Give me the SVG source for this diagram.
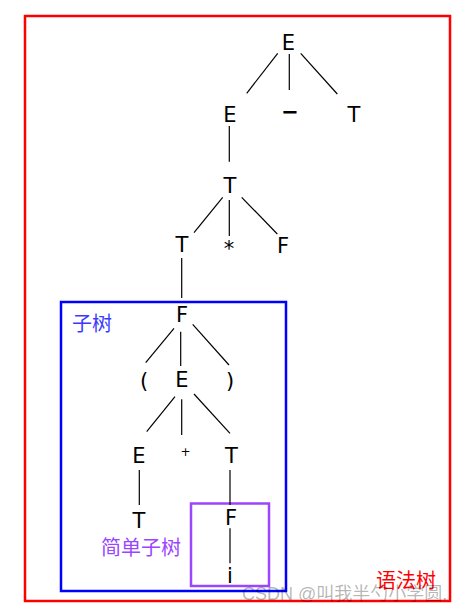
<svg xmlns="http://www.w3.org/2000/svg" width="473" height="614" viewBox="0 0 473 614">
<style>
.n{font-family:"DejaVu Sans","Liberation Sans",sans-serif;font-size:21px;fill:#000;text-anchor:middle}
.e{stroke:#000;stroke-width:1.2;fill:none}
.cjk{font-family:"Noto Sans CJK SC",sans-serif;font-size:20px}
</style>
<rect width="473" height="614" fill="#fff"/>
<g id="frames" fill="none">
<rect x="25" y="16" width="425" height="585" stroke="#ff0000" stroke-width="2.5"/>
<rect x="61" y="302" width="225" height="289" stroke="#0000ff" stroke-width="2.5"/>
<rect x="191" y="503.5" width="78" height="82.5" stroke="#9b45ff" stroke-width="2.5"/>
</g>
<g id="edges" class="e">
<line x1="277.7" y1="53.3" x2="246.7" y2="93.3"/>
<line x1="289.3" y1="54" x2="289.3" y2="90"/>
<line x1="300.7" y1="53.3" x2="337.3" y2="94"/>
<line x1="229.3" y1="126" x2="229.3" y2="161.7"/>
<line x1="222.7" y1="197.3" x2="194" y2="232.7"/>
<line x1="229.3" y1="200" x2="229.3" y2="236"/>
<line x1="241.7" y1="197.3" x2="277.3" y2="234"/>
<line x1="181.7" y1="258" x2="181.7" y2="298"/>
<line x1="174" y1="328.3" x2="145.7" y2="362.7"/>
<line x1="180.7" y1="331.7" x2="180.7" y2="366"/>
<line x1="192.7" y1="324.3" x2="229" y2="365"/>
<line x1="175" y1="396.7" x2="146.7" y2="431.7"/>
<line x1="181.7" y1="399.3" x2="181.7" y2="435"/>
<line x1="194" y1="394" x2="230" y2="433.3"/>
<line x1="139.3" y1="470" x2="139.3" y2="505"/>
<line x1="230" y1="470" x2="230" y2="505"/>
<line x1="230" y1="528.3" x2="230" y2="563.3"/>
</g>
<g id="n-E0"><text class="n" x="288.5" y="50">E</text></g>
<g id="n-E1"><text class="n" x="230" y="122">E</text></g>
<g id="n-minus"><text class="n" x="290" y="119" style="font-weight:bold">−</text></g>
<g id="n-T1"><text class="n" x="354" y="122">T</text></g>
<g id="n-T2"><text class="n" x="230" y="193">T</text></g>
<g id="n-T3"><text class="n" x="182" y="252">T</text></g>
<g id="n-star"><text class="n" x="229" y="256">*</text></g>
<g id="n-F1"><text class="n" x="283" y="253">F</text></g>
<g id="n-F2"><text class="n" x="182" y="322">F</text></g>
<g id="n-lp"><text class="n" x="144" y="388">(</text></g>
<g id="n-E2"><text class="n" x="182" y="387">E</text></g>
<g id="n-rp"><text class="n" x="230" y="388">)</text></g>
<g id="n-E3"><text class="n" x="139" y="463">E</text></g>
<g id="n-plus"><text class="n" x="185.5" y="455.5" style="font-size:12px">+</text></g>
<g id="n-T4"><text class="n" x="231.5" y="463">T</text></g>
<g id="n-T5"><text class="n" x="139" y="528">T</text></g>
<g id="n-F3"><text class="n" x="231" y="525">F</text></g>
<g id="n-i"><text class="n" x="230" y="583">i</text></g>
<g id="labels">
<text class="cjk" x="72" y="331" fill="#3a3aff">子树</text>
<text class="cjk" x="101" y="555" fill="#9b45ff">简单子树</text>
<text class="cjk" x="376" y="588" fill="#ff0000">语法树</text>
<text x="242" y="600" style="font-family:'Liberation Sans','Noto Sans CJK SC',sans-serif;font-size:18px" fill="#000" fill-opacity="0.3">CSDN @叫我半勺小学圆.</text>
</g>
</svg>
